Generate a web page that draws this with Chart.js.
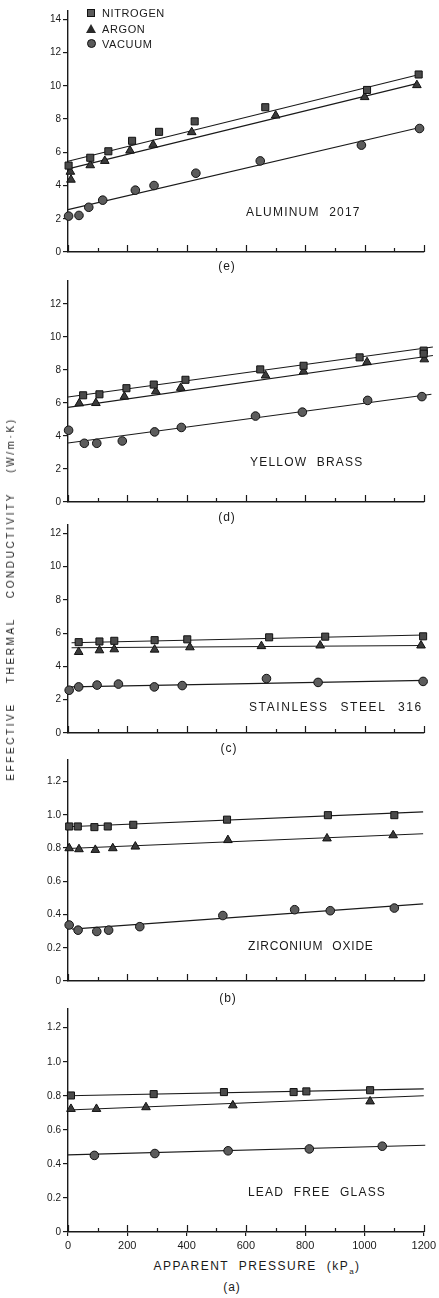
<!DOCTYPE html>
<html>
<head>
<meta charset="utf-8">
<title>Effective thermal conductivity vs apparent pressure</title>
<script src="https://cdn.jsdelivr.net/npm/chart.js@4.4.1/dist/chart.umd.min.js"></script>
<style>
  body { margin: 0; background: #fff; width: 439px; height: 1298px; position: relative; overflow: hidden;
         font-family: "Liberation Sans", Arial, sans-serif; color: #1a1a1a; }
  .panel { position: absolute; left: 0; width: 439px; }
  .txt { position: absolute; white-space: nowrap; line-height: 1; }
  .mid { transform: translate(-50%, -50%); }
  .left { transform: translateY(-50%); }
  .material { font-size: 12px; letter-spacing: 1.2px; word-spacing: 5px; }
  .cap { font-size: 12px; letter-spacing: 1px; }
  .axis { font-size: 12px; letter-spacing: 1.5px; word-spacing: 5px; }
  .legend { font-size: 11px; letter-spacing: 0.6px; }
  .sym { position: absolute; background: #5a5a5a; border: 1px solid #111; box-sizing: border-box; }
  .ytitle { font-size: 10px; letter-spacing: 2.6px; word-spacing: 14px; transform: translate(-50%, -50%) rotate(-90deg); }
</style>
</head>
<body>

<div class="panel" style="top:3px;height:257px"><canvas id="chartE"></canvas></div>
<div class="panel" style="top:273px;height:237px"><canvas id="chartD"></canvas></div>
<div class="panel" style="top:517px;height:224px"><canvas id="chartC"></canvas></div>
<div class="panel" style="top:752px;height:237px"><canvas id="chartB"></canvas></div>
<div class="panel" style="top:1001px;height:255px"><canvas id="chartA"></canvas></div>

<!-- legend -->
<div class="sym" style="left:87px;top:9px;width:8px;height:8px"></div>
<div class="txt legend left" style="left:102px;top:13px">NITROGEN</div>
<div class="sym" style="left:86px;top:24px;width:10px;height:9px;border:none;background:#2a2a2a;clip-path:polygon(50% 0,100% 100%,0 100%)"></div>
<div class="txt legend left" style="left:102px;top:29px">ARGON</div>
<div class="sym" style="left:87px;top:39px;width:9px;height:9px;border-radius:50%"></div>
<div class="txt legend left" style="left:102px;top:44px">VACUUM</div>

<!-- material names -->
<div class="txt material left" style="left:246px;top:212px">ALUMINUM 2017</div>
<div class="txt material left" style="left:250px;top:462px">YELLOW BRASS</div>
<div class="txt material left" style="left:249px;top:707px;letter-spacing:1.6px;word-spacing:7px">STAINLESS STEEL 316</div>
<div class="txt material left" style="left:248px;top:946px;letter-spacing:0.8px">ZIRCONIUM OXIDE</div>
<div class="txt material left" style="left:248px;top:1192px">LEAD FREE GLASS</div>

<!-- panel letters -->
<div class="txt cap mid" style="left:227px;top:266px">(e)</div>
<div class="txt cap mid" style="left:227px;top:517px">(d)</div>
<div class="txt cap mid" style="left:229px;top:748px">(c)</div>
<div class="txt cap mid" style="left:228px;top:998px">(b)</div>
<div class="txt cap mid" style="left:232px;top:1287px">(a)</div>

<div class="txt axis mid" style="left:257px;top:1268px">APPARENT PRESSURE (kP<sub style="font-size:8px">a</sub>)</div>
<div class="txt ytitle" style="left:11px;top:599px">EFFECTIVE THERMAL CONDUCTIVITY (W/m·K)</div>

<script>
// pressure axis (kPa)
const pressureTicks = [0, 200, 400, 600, 800, 1000, 1200];
const pressureMarks = [0, 100, 200, 300, 400, 500, 600, 700, 800, 900, 1000, 1100, 1200];

// conductivity ticks (W/m·K)
const kTicksAluminum = [0, 2, 4, 6, 8, 10, 12, 14];
const kTicksMetal = [0, 2, 4, 6, 8, 10, 12];
const kTicksCeramic = [0, 0.2, 0.4, 0.6, 0.8, 1.0, 1.2];

const gasNames = ['NITROGEN', 'ARGON', 'VACUUM'];

// (e) aluminum 2017 — [pressure, k]
const alNitrogen = [[2, 5.2], [75, 5.67], [136, 6.06], [216, 6.69], [307, 7.23], [427, 7.86], [665, 8.71], [1008, 9.75], [1182, 10.68]];
const alArgon = [[8, 4.83], [10, 4.35], [75, 5.22], [124, 5.48], [209, 6.1], [287, 6.45], [417, 7.21], [700, 8.21], [1000, 9.32], [1176, 10.04]];
const alVacuum = [[2, 2.16], [37, 2.2], [70, 2.69], [117, 3.12], [227, 3.72], [290, 4.0], [431, 4.74], [648, 5.48], [989, 6.43], [1185, 7.43]];
const alFits = [[[0, 5.46], [1181, 10.66]], [[0, 5.0], [1175, 10.13]], [[0, 2.55], [1186, 7.49]]];

// (d) yellow brass
const brNitrogen = [[51, 6.47], [106, 6.53], [197, 6.9], [289, 7.12], [396, 7.41], [648, 8.04], [794, 8.26], [983, 8.77], [1199, 9.18], [1199, 8.99]];
const brArgon = [[38, 5.98], [94, 6.0], [190, 6.39], [296, 6.71], [380, 6.92], [666, 7.67], [794, 7.91], [1008, 8.48], [1201, 8.65]];
const brVacuum = [[2, 4.35], [55, 3.56], [97, 3.56], [183, 3.7], [292, 4.25], [382, 4.52], [632, 5.21], [790, 5.45], [1010, 6.16], [1193, 6.39]];
const brFits = [[[0, 6.37], [1230, 9.4]], [[0, 5.74], [1230, 8.88]], [[0, 3.58], [1225, 6.53]]];

// (c) stainless steel 316
const ssNitrogen = [[36, 5.46], [106, 5.5], [156, 5.54], [292, 5.58], [402, 5.63], [678, 5.75], [867, 5.79], [1197, 5.81]];
const ssArgon = [[36, 4.87], [106, 4.97], [156, 5.03], [292, 5.01], [411, 5.15], [652, 5.22], [850, 5.26], [1190, 5.26]];
const ssVacuum = [[4, 2.57], [36, 2.77], [98, 2.88], [170, 2.94], [291, 2.77], [385, 2.85], [669, 3.27], [843, 3.04], [1197, 3.1]];
const ssFits = [[[12, 5.42], [1200, 5.89]], [[12, 5.12], [1200, 5.26]], [[10, 2.77], [1205, 3.16]]];

// (b) zirconium oxide
const zrNitrogen = [[4, 0.93], [33, 0.93], [89, 0.926], [134, 0.93], [220, 0.94], [536, 0.971], [876, 0.998], [1100, 0.998]];
const zrArgon = [[4, 0.799], [37, 0.793], [92, 0.789], [151, 0.799], [227, 0.809], [539, 0.848], [873, 0.858], [1096, 0.877]];
const zrVacuum = [[4, 0.337], [34, 0.306], [97, 0.298], [137, 0.306], [242, 0.327], [522, 0.394], [764, 0.429], [884, 0.423], [1100, 0.439]];
const zrFits = [[[0, 0.928], [1197, 1.018]], [[0, 0.797], [1197, 0.886]], [[13, 0.312], [1197, 0.464]]];

// (a) lead free glass
const glNitrogen = [[10, 0.802], [289, 0.81], [526, 0.822], [761, 0.822], [804, 0.826], [1019, 0.833]];
const glArgon = [[10, 0.723], [96, 0.723], [263, 0.733], [556, 0.744], [1019, 0.767]];
const glVacuum = [[89, 0.45], [293, 0.461], [540, 0.477], [814, 0.488], [1060, 0.504]];
const glFits = [[[0, 0.8], [1200, 0.841]], [[0, 0.717], [1200, 0.8]], [[0, 0.453], [1205, 0.51]]];

const INK = '#1a1a1a';
const markerStyle = ['rect', 'triangle', 'circle'];
const markerRadius = [5, 5, 4.3];
const markerFill = ['#4a4a4a', '#3a3a3a', '#5c5c5c'];

Chart.defaults.font.family = '"Liberation Sans", Arial, sans-serif';
Chart.defaults.color = INK;

// short tick marks pointing up into the plot along the pressure axis
const innerTicks = {
  id: 'innerTicks',
  afterDatasetsDraw(chart) {
    const { ctx, chartArea } = chart;
    const xs = chart.scales.x;
    ctx.save();
    ctx.strokeStyle = INK;
    ctx.lineWidth = 1.2;
    ctx.beginPath();
    pressureMarks.forEach(v => {
      const px = Math.round(xs.getPixelForValue(v)) + 0.5;
      const len = v % 200 === 0 ? 7 : 4;
      ctx.moveTo(px, chartArea.bottom);
      ctx.lineTo(px, chartArea.bottom - len);
    });
    ctx.stroke();
    ctx.restore();
  }
};

function toXY(pts) {
  return pts.map(([x, y]) => ({ x, y }));
}

function makePanel(id, series, fits, yMax, yTicks, isBottom) {
  const datasets = [];
  series.forEach((pts, i) => {
    datasets.push({
      label: gasNames[i],
      data: toXY(pts),
      showLine: false,
      pointStyle: markerStyle[i],
      pointRadius: markerRadius[i],
      pointBackgroundColor: markerFill[i],
      pointBorderColor: '#111',
      pointBorderWidth: 1,
      clip: false,
      order: 1
    });
  });
  fits.forEach(f => {
    datasets.push({
      data: toXY(f),
      showLine: true,
      pointRadius: 0,
      borderColor: INK,
      borderWidth: 1.1,
      clip: false,
      order: 2
    });
  });

  new Chart(document.getElementById(id), {
    type: 'scatter',
    data: { datasets },
    options: {
      responsive: true,
      maintainAspectRatio: false,
      animation: false,
      devicePixelRatio: 1,
      layout: { padding: { top: 6, right: 15, bottom: 0, left: 0 } },
      plugins: { legend: { display: false }, tooltip: { enabled: false } },
      scales: {
        x: {
          type: 'linear',
          min: 0,
          max: 1200,
          afterBuildTicks: s => { s.ticks = pressureTicks.map(v => ({ value: v })); },
          afterFit: s => { s.height = isBottom ? 24 : 4; },
          ticks: {
            display: isBottom, font: { size: 11 }, padding: 3, maxRotation: 0, autoSkip: false,
            callback: v => String(v)
          },
          grid: { drawOnChartArea: false, drawTicks: isBottom, tickLength: 4, color: INK, lineWidth: 1.2 },
          border: { display: true, color: INK, width: 1.4 }
        },
        y: {
          type: 'linear',
          min: 0,
          max: yMax,
          afterBuildTicks: s => { s.ticks = yTicks.map(v => ({ value: v })); },
          afterFit: s => { s.width = 68; },
          ticks: {
            font: { size: 10 },
            padding: 2,
            callback: v => (yMax < 2 && v !== 0) ? v.toFixed(1) : String(v)
          },
          grid: { drawOnChartArea: false, tickLength: 5, color: INK, lineWidth: 1.2 },
          border: { display: true, color: INK, width: 1.4 }
        }
      }
    },
    plugins: [innerTicks]
  });
}

makePanel('chartE', [alNitrogen, alArgon, alVacuum], alFits, 14.5, kTicksAluminum, false);
makePanel('chartD', [brNitrogen, brArgon, brVacuum], brFits, 13.4, kTicksMetal, false);
makePanel('chartC', [ssNitrogen, ssArgon, ssVacuum], ssFits, 12.5, kTicksMetal, false);
makePanel('chartB', [zrNitrogen, zrArgon, zrVacuum], zrFits, 1.33, kTicksCeramic, false);
makePanel('chartA', [glNitrogen, glArgon, glVacuum], glFits, 1.31, kTicksCeramic, true);
</script>
</body>
</html>
